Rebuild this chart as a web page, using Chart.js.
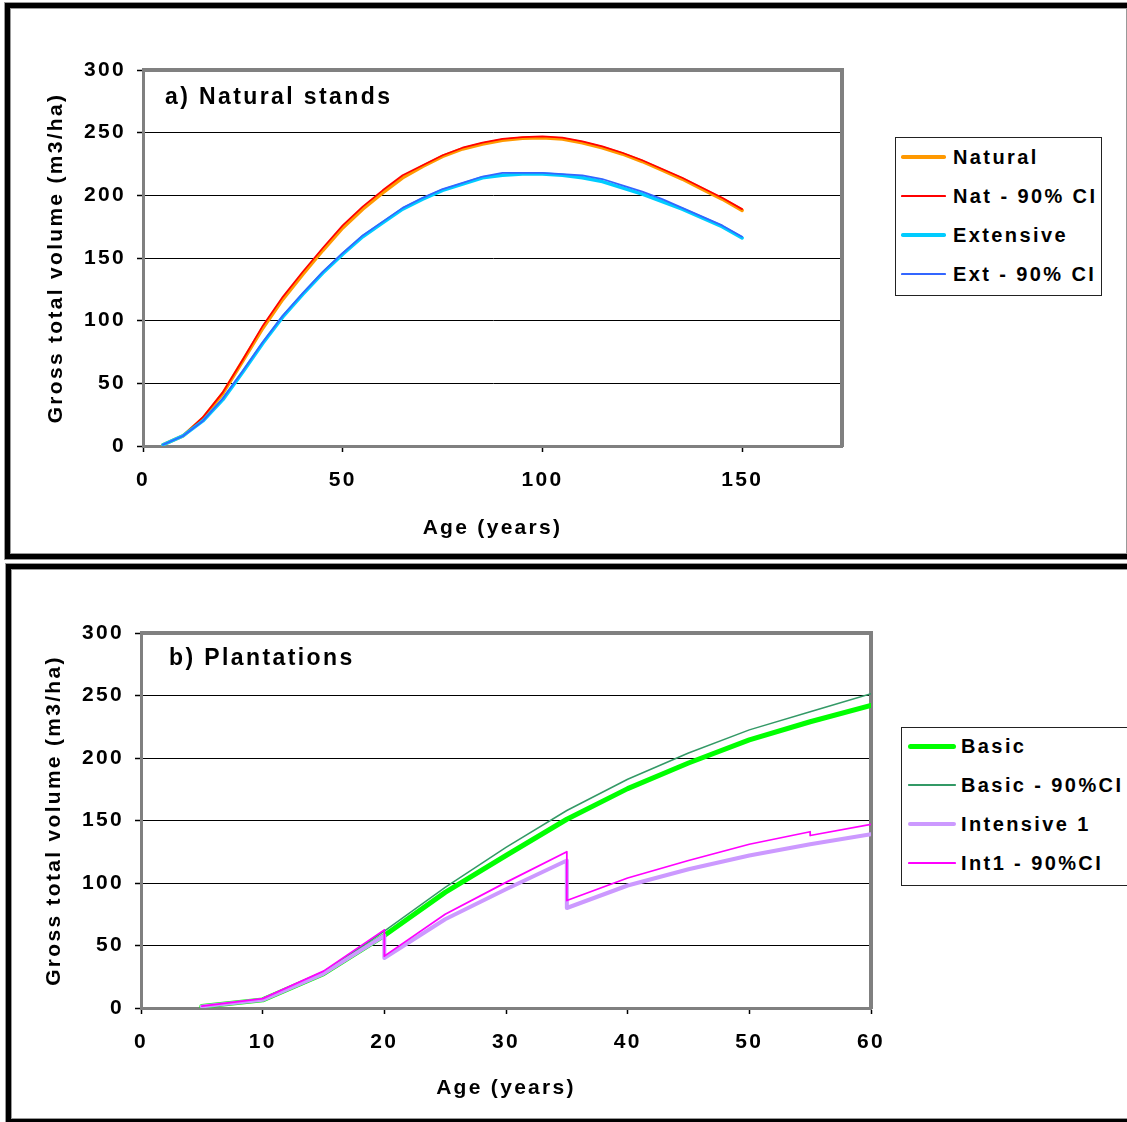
<!DOCTYPE html>
<html>
<head>
<meta charset="utf-8">
<script src="https://cdn.jsdelivr.net/npm/chart.js@4.4.0/dist/chart.umd.min.js"></script>
<style>
  html, body { margin: 0; padding: 0; background: #fff; }
  body { width: 1127px; height: 1122px; position: relative; overflow: hidden; font-family: "Liberation Sans", Arial, sans-serif; }
  .panel { position: absolute; box-sizing: border-box; border: 5px solid #000; box-shadow: 0 0 0 1px #999, inset 0 0 0 1px #999; pointer-events: none; z-index: 2; }
  .chart-box { position: absolute; left: 0; width: 1127px; height: 560px; }
  .legend { position: absolute; box-sizing: border-box; border: 1px solid #222; background: #fff; z-index: 3; }
  .legend-line { position: absolute; }
  .legend-text { position: absolute; height: 24px; line-height: 24px; font-weight: bold; font-size: 20px; letter-spacing: 2.4px; white-space: nowrap; color: #000; }
</style>
</head>
<body>
<div class="chart-box" style="top:0"><canvas id="natChart" width="1127" height="560"></canvas></div>
<div class="chart-box" style="top:562px"><canvas id="plantChart" width="1127" height="560"></canvas></div>
<div class="panel" style="left:5px; top:3px; width:1127px; height:556px"></div>
<div class="panel" style="left:6px; top:564px; width:1127px; height:560px"></div>
<div class="legend" id="natLegend" style="left:895px; top:137px; width:207px; height:159px"></div>
<div class="legend" id="plantLegend" style="left:901px; top:727px; width:240px; height:159px"></div>

<script>
// a) natural stands
const natAges = [5, 10, 15, 20, 25, 30, 35, 40, 45, 50, 55, 60, 65, 70, 75, 80, 85, 90, 95, 100, 105, 110, 115, 120, 125, 130, 135, 140, 145, 150];
const natural = [1, 8, 22, 42, 68, 94, 117, 137, 156, 174, 189, 202, 214, 223, 231, 237, 241, 244, 245.5, 246, 245, 242, 238, 233, 227, 220, 213, 205, 197, 188];
const natCI = [1, 8, 23, 43, 69, 96, 119, 139, 158, 176, 191, 204, 216, 224, 232, 238, 242, 245, 246.5, 247, 246, 243, 239, 234, 228, 221, 214, 206, 198, 189];
const extensive = [1, 8, 20, 37, 59, 82, 103, 121, 138, 153, 167, 178, 189, 197, 204, 209, 214, 216, 217, 217, 216, 214, 211, 206, 201, 195, 189, 182, 175, 166];
const extCI = [1, 8, 20, 38, 60, 83, 104, 122, 139, 154, 168, 179, 190, 198, 205, 210, 215, 218, 218, 218, 217, 216, 213, 208, 203, 197, 190, 183, 176, 167];

// b) plantations (thinnings give two values at one age)
const basicAges = [5, 10, 15, 20, 25, 30, 35, 40, 45, 50, 55, 60];
const basic = [1.3, 6.5, 27.5, 58, 92.5, 122, 151, 175.5, 196, 214.5, 229, 242];
const basicCI = [1.3, 7, 28.5, 61.5, 96.5, 128.5, 158, 183, 204, 222.5, 237, 251.5];
const intAges = [5, 10, 15, 20, 20, 25, 30, 35, 35, 40, 45, 50, 55, 60];
const intensive = [1.3, 6.5, 27.5, 58, 40, 71, 95, 118, 80, 98, 111, 122, 131, 139];
const int1CIAges = [5, 10, 15, 20, 20, 25, 30, 35, 35, 40, 45, 50, 55, 55, 60];
const int1CI = [1.5, 7.5, 29.5, 62.5, 41.5, 75, 100.5, 125, 86, 104, 118, 131, 141, 138, 147];

const natNames = ["Natural", "Nat - 90% CI", "Extensive", "Ext - 90% CI"];
const natColors = ["#FF9900", "#FF0000", "#00CCFF", "#3366FF"];
const natWidths = [3.5, 1.75, 3.5, 1.75];
const plantNames = ["Basic", "Basic - 90%CI", "Intensive 1", "Int1 - 90%CI"];
const plantColors = ["#00FF00", "#339966", "#CC99FF", "#FF00FF"];
const plantWidths = [5, 1.5, 4, 1.75];

const FONT = '"Liberation Sans", Arial, sans-serif';
Chart.defaults.font.family = FONT;
Chart.defaults.color = "#000";

const pairs = (xs, ys) => xs.map((x, i) => ({ x, y: ys[i] }));

const plotFrame = {
  id: "plotFrame",
  beforeDraw(chart) {
    chart.ctx.letterSpacing = "2.3px";
  },
  beforeDatasetsDraw(chart) {
    const { ctx, chartArea: a } = chart;
    ctx.save();
    ctx.strokeStyle = "#808080";
    ctx.lineWidth = 4;
    ctx.beginPath();
    ctx.moveTo(a.left - 1, a.top);
    ctx.lineTo(a.right, a.top);
    ctx.lineTo(a.right, a.bottom + 1);
    ctx.stroke();
    ctx.restore();
  },
  afterDraw(chart, args, opts) {
    const { ctx, chartArea: a } = chart;
    ctx.save();
    ctx.letterSpacing = "2.4px";
    ctx.font = "bold 23px " + FONT;
    ctx.fillStyle = "#000";
    ctx.textBaseline = "alphabetic";
    ctx.fillText(opts.text, a.left + opts.dx, a.top + opts.dy);
    ctx.restore();
  },
};

function makeChart(id, g, datasets, title) {
  const tickFont = { size: 21, weight: "bold", lineHeight: 1.2 };
  return new Chart(document.getElementById(id), {
    type: "line",
    data: { datasets },
    plugins: [plotFrame],
    options: {
      responsive: false,
      animation: false,
      events: [],
      layout: { padding: { left: g.padLeft, right: 1127 - g.right, top: g.top, bottom: 560 - g.bottom - g.xAxisH } },
      elements: { line: { tension: 0, borderJoinStyle: "round", borderCapStyle: "round" }, point: { radius: 0 } },
      plugins: { legend: { display: false }, tooltip: { enabled: false }, plotFrame: title },
      scales: {
        x: {
          type: "linear",
          min: 0,
          max: g.xMax,
          ticks: { stepSize: g.xStep, font: tickFont, color: "#000", padding: 16, maxRotation: 0, autoSkip: false },
          grid: { drawOnChartArea: false, tickLength: 6, tickWidth: 1.5, tickColor: "#000" },
          border: { color: "#808080", width: 3 },
          title: { display: true, text: "Age (years)", color: "#000", font: tickFont, padding: { top: 0, bottom: g.xTitlePad } },
          afterBuildTicks(s) { s.ticks = s.ticks.filter((t) => t.value % g.xStep === 0); },
          afterFit(s) { s.height = g.xAxisH; },
        },
        y: {
          min: 0,
          max: 300,
          ticks: { stepSize: 50, font: tickFont, color: "#000", padding: 11 },
          grid: {
            color: (c) => (c.tick && (c.tick.value === 0 || c.tick.value === 300) ? "rgba(0,0,0,0)" : "#000"),
            lineWidth: 1,
            tickLength: 6,
            tickWidth: 1.5,
            tickColor: "#000",
          },
          border: { color: "#808080", width: 3 },
          title: { display: true, text: "Gross total volume (m3/ha)", color: "#000", font: tickFont, padding: { top: 0, bottom: 0 } },
          afterFit(s) { s.width = g.left - g.padLeft; },
        },
      },
    },
  });
}

function lineSet(label, data, color, width, order) {
  return { label, data, borderColor: color, backgroundColor: color, borderWidth: width, order, fill: false };
}

makeChart(
  "natChart",
  { left: 143, right: 842, top: 70, bottom: 446, padLeft: 44, xAxisH: 98, xTitlePad: 3, xMax: 175, xStep: 50 },
  [
    lineSet(natNames[0], pairs(natAges, natural), natColors[0], natWidths[0], 4),
    lineSet(natNames[1], pairs(natAges, natCI), natColors[1], natWidths[1], 3),
    lineSet(natNames[2], pairs(natAges, extensive), natColors[2], natWidths[2], 2),
    lineSet(natNames[3], pairs(natAges, extCI), natColors[3], natWidths[3], 1),
  ],
  { text: "a) Natural stands", dx: 22, dy: 33.5 }
);

makeChart(
  "plantChart",
  { left: 141, right: 871, top: 71, bottom: 446, padLeft: 42, xAxisH: 98, xTitlePad: 5, xMax: 60, xStep: 10 },
  [
    lineSet(plantNames[0], pairs(basicAges, basic), plantColors[0], plantWidths[0], 4),
    lineSet(plantNames[1], pairs(basicAges, basicCI), plantColors[1], plantWidths[1], 3),
    lineSet(plantNames[2], pairs(intAges, intensive), plantColors[2], plantWidths[2], 2),
    lineSet(plantNames[3], pairs(int1CIAges, int1CI), plantColors[3], plantWidths[3], 1),
  ],
  { text: "b) Plantations", dx: 28, dy: 32 }
);

function buildLegend(id, names, colors, widths, rowTop, lineLeft, lineLen, textLeft) {
  const box = document.getElementById(id);
  names.forEach((name, i) => {
    const cy = rowTop + i * 39;
    const line = document.createElement("div");
    line.className = "legend-line";
    line.style.cssText = `left:${lineLeft}px; top:${cy - widths[i] / 2}px; width:${lineLen}px; height:${widths[i]}px; background:${colors[i]}; border-radius:${widths[i] / 2}px`;
    const text = document.createElement("div");
    text.className = "legend-text";
    text.style.cssText = `left:${textLeft}px; top:${cy - 12}px`;
    text.textContent = name;
    box.appendChild(line);
    box.appendChild(text);
  });
}

buildLegend("natLegend", natNames, natColors, natWidths, 19, 5, 45, 57);
buildLegend("plantLegend", plantNames, plantColors, plantWidths, 18, 6, 48, 59);
</script>
</body>
</html>
